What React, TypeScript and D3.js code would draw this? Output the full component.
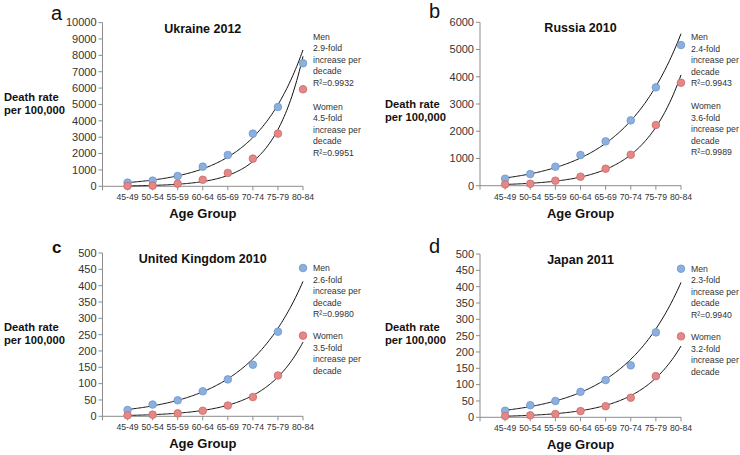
import React from "react"
import * as d3 from "d3"

const ageGroups = ["45-49", "50-54", "55-59", "60-64", "65-69", "70-74", "75-79", "80-84"]

const ukraineMen = [224, 346, 631, 1200, 1914, 3218, 4847, 7515]
const ukraineWomen = [20, 40, 160, 400, 815, 1690, 3218, 5927]
const russiaMen = [257, 428, 698, 1126, 1628, 2399, 3611, 5165]
const russiaWomen = [49, 73, 184, 330, 624, 1138, 2228, 3782]
const ukMen = [19.4, 36, 49, 76.5, 113, 158, 259, 454]
const ukWomen = [3, 5, 9, 17, 33, 59, 125, 247]
const japanMen = [20, 37, 50, 78, 114, 159, 260, 455]
const japanWomen = [4, 6, 10, 19, 34, 60, 126, 248]

const ticks10000 = [0, 1000, 2000, 3000, 4000, 5000, 6000, 7000, 8000, 9000, 10000]
const ticks6000 = [0, 1000, 2000, 3000, 4000, 5000, 6000]
const ticks500 = [0, 50, 100, 150, 200, 250, 300, 350, 400, 450, 500]

const ukraineNotes = {
  men: ["Men", "2.9-fold", "increase per", "decade", "R²=0.9932"],
  women: ["Women", "4.5-fold", "increase per", "decade", "R²=0.9951"],
}
const russiaNotes = {
  men: ["Men", "2.4-fold", "increase per", "decade", "R²=0.9943"],
  women: ["Women", "3.6-fold", "increase per", "decade", "R²=0.9989"],
}
const ukNotes = {
  men: ["Men", "2.6-fold", "increase per", "decade", "R²=0.9980"],
  women: ["Women", "3.5-fold", "increase per", "decade"],
}
const japanNotes = {
  men: ["Men", "2.3-fold", "increase per", "decade", "R²=0.9940"],
  women: ["Women", "3.2-fold", "increase per", "decade"],
}

const FONT = "'Liberation Sans', Arial, Helvetica, sans-serif"
const MEN_FILL = "#8cb0de"
const MEN_STROKE = "#6d95cc"
const WOMEN_FILL = "#e48787"
const WOMEN_STROKE = "#cc6a6a"

// Excel-style exponential trendline: least squares on ln(y)
function expFit(values: number[]) {
  const xs = values.map((_, i) => i + 1)
  const ls = values.map(v => Math.log(v))
  const mx = d3.mean(xs)!
  const ml = d3.mean(ls)!
  const sxy = d3.sum(xs, (x, i) => (x - mx) * (ls[i] - ml))
  const sxx = d3.sum(xs, x => (x - mx) * (x - mx))
  const b = sxy / sxx
  const a = ml - b * mx
  return (x: number) => Math.exp(a + b * x)
}

interface PanelProps {
  letter: string
  letterBold?: boolean
  letterPos: [number, number]
  title: string
  men: number[]
  women: number[]
  yTicks: number[]
  xRange: [number, number]
  yRange: [number, number]
  labelPos: [number, number]
  notes: { men: string[]; women: string[] }
  notesX: number
  menNoteY: number
  womenNoteY: number
}

function Panel(p: PanelProps) {
  const x = d3.scaleLinear().domain([0, 8]).range(p.xRange)
  const y = d3.scaleLinear().domain([0, p.yTicks[p.yTicks.length - 1]]).range(p.yRange)
  const line = d3.line<number[]>().x(d => x(d[0])).y(d => y(d[1]))

  const curve = (vals: number[]) => {
    const f = expFit(vals)
    const pts = d3.range(1, 8.001, 0.05).map(t => [t, f(t)])
    return line(pts) || ""
  }

  const [x0, x1] = p.xRange
  const [yb, yt] = p.yRange
  const axisColor = "#8c8c8c"
  const centerX = (x0 + x1) / 2

  return (
    <g fontFamily={FONT}>
      <text x={p.letterPos[0]} y={p.letterPos[1]} fontSize={p.letterBold ? 17 : 20}
        fontWeight={p.letterBold ? "bold" : "normal"} fill="#111">{p.letter}</text>

      {/* y axis */}
      <line x1={x0} x2={x0} y1={yb} y2={yt} stroke={axisColor} />
      {p.yTicks.map(t => (
        <g key={t}>
          <line x1={x0 - 4} x2={x0} y1={y(t)} y2={y(t)} stroke={axisColor} />
          <text x={x0 - 6} y={y(t)} dy="0.35em" textAnchor="end" fontSize={11} fill="#333">{t}</text>
        </g>
      ))}

      {/* x axis */}
      <line x1={x0} x2={x1} y1={yb} y2={yb} stroke={axisColor} />
      {d3.range(0, 9).map(i => (
        <line key={i} x1={x(i)} x2={x(i)} y1={yb} y2={yb + 4} stroke={axisColor} />
      ))}
      {ageGroups.map((g, i) => (
        <text key={g} x={x(i + 1)} y={yb + 14} textAnchor="middle" fontSize={8.7} fill="#333">{g}</text>
      ))}

      <text x={centerX} y={yt + 10} textAnchor="middle" fontSize={12.5} fontWeight="bold" fill="#111">{p.title}</text>
      <text x={centerX} y={yb + 32} textAnchor="middle" fontSize={13} fontWeight="bold" fill="#111">Age Group</text>
      <text x={p.labelPos[0]} y={p.labelPos[1]} fontSize={11.2} fontWeight="bold" fill="#111">Death rate</text>
      <text x={p.labelPos[0]} y={p.labelPos[1] + 13} fontSize={11.2} fontWeight="bold" fill="#111">per 100,000</text>

      {/* trend lines */}
      <path d={curve(p.men)} fill="none" stroke="#111" strokeWidth={1} />
      <path d={curve(p.women)} fill="none" stroke="#111" strokeWidth={1} />

      {/* points */}
      {p.men.map((v, i) => (
        <circle key={"m" + i} cx={x(i + 1)} cy={y(v)} r={3.8} fill={MEN_FILL} stroke={MEN_STROKE} strokeWidth={0.8} />
      ))}
      {p.women.map((v, i) => (
        <circle key={"w" + i} cx={x(i + 1)} cy={y(v)} r={3.8} fill={WOMEN_FILL} stroke={WOMEN_STROKE} strokeWidth={0.8} />
      ))}

      {/* annotations */}
      {p.notes.men.map((s, i) => (
        <text key={"mn" + i} x={p.notesX} y={p.menNoteY + i * 11.5} dy="0.35em" fontSize={8.7} fill="#333">{s}</text>
      ))}
      {p.notes.women.map((s, i) => (
        <text key={"wn" + i} x={p.notesX} y={p.womenNoteY + i * 11.5} dy="0.35em" fontSize={8.7} fill="#333">{s}</text>
      ))}
    </g>
  )
}

export default function App() {
  return (
    <div style={{ position: "absolute", left: 0, top: 0, background: "#fff" }}>
      <svg width={740} height={455} style={{ display: "block" }}>
        <rect width={740} height={455} fill="#fff" />
        <Panel letter="a" letterPos={[51, 20]} title="Ukraine 2012" men={ukraineMen} women={ukraineWomen}
          yTicks={ticks10000} xRange={[102.5, 303]} yRange={[186.3, 22.6]} labelPos={[4, 101]}
          notes={ukraineNotes} notesX={313} menNoteY={36.7} womenNoteY={106.7} />
        <Panel letter="b" letterPos={[429, 18]} title="Russia 2010" men={russiaMen} women={russiaWomen}
          yTicks={ticks6000} xRange={[480, 681]} yRange={[185.7, 22.3]} labelPos={[385, 108]}
          notes={russiaNotes} notesX={691} menNoteY={37.3} womenNoteY={106} />
        <Panel letter="c" letterBold letterPos={[52, 253]} title="United Kingdom 2010" men={ukMen} women={ukWomen}
          yTicks={ticks500} xRange={[102.5, 303]} yRange={[416.3, 253]} labelPos={[4, 331]}
          notes={ukNotes} notesX={313} menNoteY={268} womenNoteY={336.3} />
        <Panel letter="d" letterPos={[429, 253]} title="Japan 2011" men={japanMen} women={japanWomen}
          yTicks={ticks500} xRange={[480, 681]} yRange={[417.3, 254]} labelPos={[385, 331]}
          notes={japanNotes} notesX={691} menNoteY={268.7} womenNoteY={337} />
      </svg>
    </div>
  )
}
